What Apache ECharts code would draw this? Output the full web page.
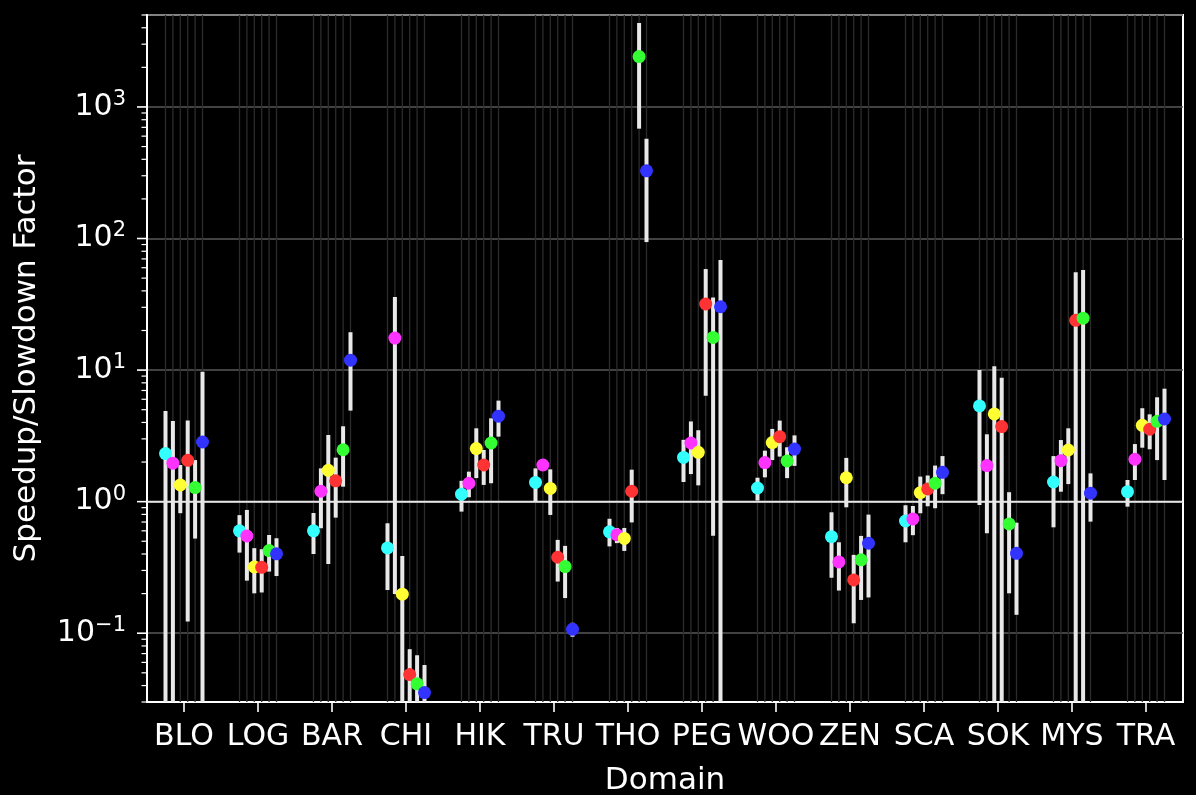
<!DOCTYPE html>
<html>
<head>
<meta charset="utf-8">
<title>Speedup/Slowdown Factor by Domain</title>
<script src="https://cdn.jsdelivr.net/npm/echarts@6/dist/echarts.min.js"></script>
<style>
  html, body { margin: 0; padding: 0; background: #000; }
  #chart { width: 1196px; height: 795px; }
</style>
</head>
<body>
<div id="chart"></div>
<script>
// domains along the x axis
const categories = ['BLO', 'LOG', 'BAR', 'CHI', 'HIK', 'TRU', 'THO', 'PEG', 'WOO', 'ZEN', 'SCA', 'SOK', 'MYS', 'TRA'];

// centre value and error bar ends per series (0.001 = bar runs off the bottom)
const cyanMid  = [2.32, 0.60, 0.60, 0.445, 1.14, 1.40, 0.59, 2.17, 1.27, 0.542, 0.713, 5.34, 1.41, 1.19];
const cyanLow  = [0.001, 0.41, 0.40, 0.213, 0.84, 1.00, 0.457, 1.41, 1.02, 0.264, 0.491, 0.944, 0.638, 0.916];
const cyanHigh = [4.89, 0.79, 0.82, 0.685, 1.44, 1.79, 0.741, 2.95, 1.52, 0.83, 0.939, 10.0, 2.22, 1.46];

const magentaMid  = [1.96, 0.548, 1.20, 17.5, 1.38, 1.90, 0.56, 2.79, 1.98, 0.348, 0.739, 1.88, 2.05, 2.10];
const magentaLow  = [0.001, 0.251, 0.628, 0.199, 1.08, 1.76, 0.484, 1.62, 1.53, 0.211, 0.556, 0.575, 1.19, 1.46];
const magentaHigh = [4.10, 0.865, 1.79, 35.9, 1.69, 2.05, 0.63, 4.07, 2.44, 0.491, 0.927, 3.25, 2.94, 2.74];

const yellowMid  = [1.34, 0.319, 1.73, 0.198, 2.53, 1.26, 0.525, 2.37, 2.81, 1.52, 1.17, 4.64, 2.47, 3.80];
const yellowLow  = [0.817, 0.201, 0.336, 0.001, 1.51, 0.792, 0.422, 1.33, 2.07, 0.906, 0.816, 0.001, 1.36, 2.57];
const yellowHigh = [1.90, 0.443, 3.21, 0.387, 3.61, 1.76, 0.631, 3.49, 3.57, 2.15, 1.55, 10.7, 3.61, 5.13];

const redMid  = [2.06, 0.317, 1.44, 0.0485, 1.90, 0.378, 1.20, 31.8, 3.12, 0.254, 1.25, 3.72, 23.9, 3.55];
const redLow  = [0.1225, 0.204, 0.756, 0.001, 1.34, 0.247, 0.695, 6.38, 2.20, 0.119, 0.922, 0.001, 0.001, 2.50];
const redHigh = [4.13, 0.435, 2.16, 0.0756, 2.47, 0.512, 1.75, 58.6, 4.13, 0.394, 1.58, 8.75, 55.4, 4.61];

const greenMid  = [1.28, 0.425, 2.48, 0.0412, 2.79, 0.321, 2415, 17.7, 2.04, 0.361, 1.38, 0.677, 24.8, 4.08];
const greenLow  = [0.524, 0.294, 1.30, 0.001, 1.38, 0.185, 684, 0.551, 1.51, 0.179, 0.891, 0.201, 0.001, 2.07];
const greenHigh = [2.07, 0.558, 3.74, 0.068, 4.30, 0.461, 4345, 35.6, 2.59, 0.549, 1.88, 1.18, 57.6, 6.21];

const blueMid  = [2.84, 0.401, 11.9, 0.0354, 4.46, 0.107, 327, 30.3, 2.51, 0.483, 1.67, 0.405, 1.16, 4.25];
const blueLow  = [0.001, 0.272, 4.92, 0.001, 3.12, 0.094, 94, 0.001, 1.87, 0.187, 1.14, 0.138, 0.705, 1.46];
const blueHigh = [9.70, 0.527, 19.4, 0.0573, 5.86, 0.12, 573, 68.8, 3.19, 0.797, 2.22, 0.692, 1.64, 7.22];

// tick values on the log axis
const yMajorTicks = [0.1, 1, 10, 100, 1000];
const yMinorTicks = [0.03, 0.04, 0.05, 0.06, 0.07, 0.08, 0.09,
  0.2, 0.3, 0.4, 0.5, 0.6, 0.7, 0.8, 0.9,
  2, 3, 4, 5, 6, 7, 8, 9,
  20, 30, 40, 50, 60, 70, 80, 90,
  200, 300, 400, 500, 600, 700, 800, 900,
  2000, 3000, 4000, 5000];

// reference level drawn in white
const unityLevel = [1];

const groups = [
  { color: '#33ffff', mid: cyanMid, low: cyanLow, high: cyanHigh },
  { color: '#ff33ff', mid: magentaMid, low: magentaLow, high: magentaHigh },
  { color: '#ffff33', mid: yellowMid, low: yellowLow, high: yellowHigh },
  { color: '#ff3333', mid: redMid, low: redLow, high: redHigh },
  { color: '#33ff33', mid: greenMid, low: greenLow, high: greenHigh },
  { color: '#3333ff', mid: blueMid, low: blueLow, high: blueHigh }
];

const FONT = 'DejaVu Sans';
const slot = 0.1; // horizontal offset between series inside one domain (in category units)
const offset = (j) => (j - (groups.length - 1) / 2) * slot;

const chart = echarts.init(document.getElementById('chart'), null, { renderer: 'canvas' });

// thin vertical guides at every series slot
const guideData = [];
categories.forEach((c, i) => {
  groups.forEach((g, j) => guideData.push([i + offset(j), 1]));
});

const tickData = yMajorTicks.map(v => [-0.5, v, 1]).concat(yMinorTicks.map(v => [-0.5, v, 0]));

const series = [
  {
    type: 'custom',
    name: 'guides',
    xAxisIndex: 1,
    z: 1,
    silent: true,
    data: guideData,
    renderItem: function (params, api) {
      const cs = params.coordSys;
      const x = api.coord([api.value(0), 1])[0];
      return {
        type: 'line',
        shape: { x1: x, y1: cs.y, x2: x, y2: cs.y + cs.height },
        style: { stroke: '#2c2c2c', lineWidth: 1.3 }
      };
    }
  },
  {
    type: 'custom',
    name: 'unity',
    xAxisIndex: 1,
    z: 1,
    silent: true,
    data: unityLevel.map(v => [-0.5, v]),
    renderItem: function (params, api) {
      const cs = params.coordSys;
      const y = api.coord([api.value(0), api.value(1)])[1];
      return {
        type: 'line',
        shape: { x1: cs.x, y1: y, x2: cs.x + cs.width, y2: y },
        style: { stroke: '#e6e6e6', lineWidth: 2 }
      };
    }
  },
  {
    type: 'custom',
    name: 'yticks',
    xAxisIndex: 1,
    clip: false,
    silent: true,
    data: tickData,
    renderItem: function (params, api) {
      const p = api.coord([api.value(0), api.value(1)]);
      const major = api.value(2) === 1;
      const len = major ? 10 : 5.5;
      return {
        type: 'line',
        shape: { x1: p[0] - len, y1: p[1], x2: p[0], y2: p[1] },
        style: { stroke: '#ffffff', lineWidth: major ? 1.6 : 1.2 }
      };
    }
  }
];

groups.forEach((g, j) => {
  const bars = g.mid.map((m, i) => [i + offset(j), g.low[i], g.high[i]]);
  const pts = g.mid.map((m, i) => [i + offset(j), m]);
  series.push({
    type: 'custom',
    xAxisIndex: 1,
    silent: true,
    data: bars,
    renderItem: function (params, api) {
      const cs = params.coordSys;
      const a = api.coord([api.value(0), api.value(1)]);
      const b = api.coord([api.value(0), api.value(2)]);
      const y1 = Math.min(a[1], cs.y + cs.height);
      const y2 = Math.max(b[1], cs.y);
      return {
        type: 'line',
        shape: { x1: a[0], y1: y1, x2: a[0], y2: y2 },
        style: { stroke: '#e8e8e8', lineWidth: 4 }
      };
    }
  });
  series.push({
    type: 'scatter',
    xAxisIndex: 1,
    symbol: 'circle',
    symbolSize: 13,
    itemStyle: { color: g.color, opacity: 1 },
    data: pts
  });
});

const option = {
  backgroundColor: '#000',
  animation: false,
  grid: {
    left: 147, right: 13, top: 15, bottom: 93,
    outerBoundsMode: 'none',
    containLabel: false,
    show: true, borderColor: '#ffffff', borderWidth: 2, backgroundColor: '#000'
  },
  xAxis: [
    {
      type: 'category',
      data: categories,
      position: 'bottom',
      boundaryGap: true,
      axisLine: { lineStyle: { color: '#ffffff', width: 2 } },
      axisTick: { show: true, alignWithLabel: true, length: 10, lineStyle: { color: '#ffffff', width: 1.6 } },
      axisLabel: { color: '#ffffff', fontSize: 30, fontFamily: FONT, margin: 20, interval: 0 },
      splitLine: { show: false },
      name: 'Domain',
      nameLocation: 'middle',
      nameGap: 63,
      nameTextStyle: { color: '#ffffff', fontSize: 31, fontFamily: FONT }
    },
    {
      type: 'value',
      min: -0.5,
      max: 13.5,
      show: false
    }
  ],
  yAxis: {
    type: 'log',
    logBase: 10,
    min: 0.03,
    max: 5000,
    axisLine: { show: true, onZero: false, lineStyle: { color: '#ffffff', width: 2 } },
    axisTick: { show: false },
    splitLine: { show: true, lineStyle: { color: '#585858', width: 1.6 } },
    axisLabel: {
      margin: 21,
      formatter: function (v) {
        const lg = Math.log10(v);
        const e = Math.round(lg);
        if (Math.abs(lg - e) > 1e-6) return '';
        return '{b|10}{s|' + String(e).replace('-', '\u2212') + '}';
      },
      rich: {
        b: { color: '#ffffff', fontSize: 30, fontFamily: FONT, lineHeight: 36 },
        s: { color: '#ffffff', fontSize: 21, fontFamily: FONT, lineHeight: 21, verticalAlign: 'top' }
      }
    },
    name: 'Speedup/Slowdown Factor',
    nameLocation: 'middle',
    nameGap: 105,
    nameTextStyle: { color: '#ffffff', fontSize: 31, fontFamily: FONT }
  },
  series: series
};

chart.setOption(option);
</script>
</body>
</html>
